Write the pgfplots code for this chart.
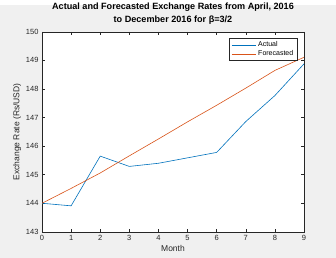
\documentclass[border=0pt]{standalone}
\usepackage{pgfplots}
\pgfplotsset{compat=1.18}
\usepackage{fontspec}
\setmainfont{Liberation Sans}
\definecolor{figbg}{RGB}{240,240,240}
\definecolor{axgray}{RGB}{38,38,38}
\definecolor{mblue}{rgb}{0,0.447,0.741}
\definecolor{morange}{rgb}{0.85,0.325,0.098}

\pgfplotstableread{
m actual forecast
0 144.00 144.00
1 143.91 144.52
2 145.65 145.06
3 145.29 145.66
4 145.40 146.25
5 145.59 146.85
6 145.78 147.43
7 146.86 148.03
8 147.77 148.65
9 148.88 149.11
}\rates

\begin{document}
\begin{tikzpicture}
\fill[figbg] (0,0) rectangle (336pt,253pt);
\begin{axis}[
  at={(42pt,26pt)}, anchor=south west,
  scale only axis, width=262pt, height=200pt,
  xmin=0, xmax=9, ymin=143, ymax=150,
  xtick={0,...,9}, ytick={143,...,150},
  axis background/.style={fill=white},
  axis line style={axgray, line width=0.5pt},
  tick style={axgray, line width=0.5pt},
  tick align=inside, major tick length=3pt,
  ticklabel style={font=\fontsize{7.5}{9}\selectfont, text=axgray},
  /pgf/number format/assume math mode=true,
  xlabel={Month}, ylabel={Exchange Rate (Rs/USD)},
  label style={font=\fontsize{8.5}{10}\selectfont, text=axgray},
  xlabel style={yshift=2pt},
  ylabel style={yshift=-2pt},
  title={Actual and Forecasted Exchange Rates from April, 2016\\to December 2016 for β=3/2},
  title style={font=\bfseries\fontsize{9.1}{12.5}\selectfont, align=center, yshift=-2pt},
  legend style={at={(0.975,0.97)}, anchor=north east, draw=axgray, line width=0.4pt,
    font=\fontsize{7}{8}\selectfont, row sep=-1.5pt, inner xsep=2pt, inner ysep=1.5pt},
  legend cell align=left,
  legend image code/.code={\draw[#1] (0pt,0pt) -- (24pt,0pt);},
]
\addplot[mblue, line width=0.6pt] table[x=m, y=actual] {\rates};
\addlegendentry{Actual}
\addplot[morange, line width=0.6pt] table[x=m, y=forecast] {\rates};
\addlegendentry{Forecasted}
\end{axis}
\end{tikzpicture}
\end{document}
